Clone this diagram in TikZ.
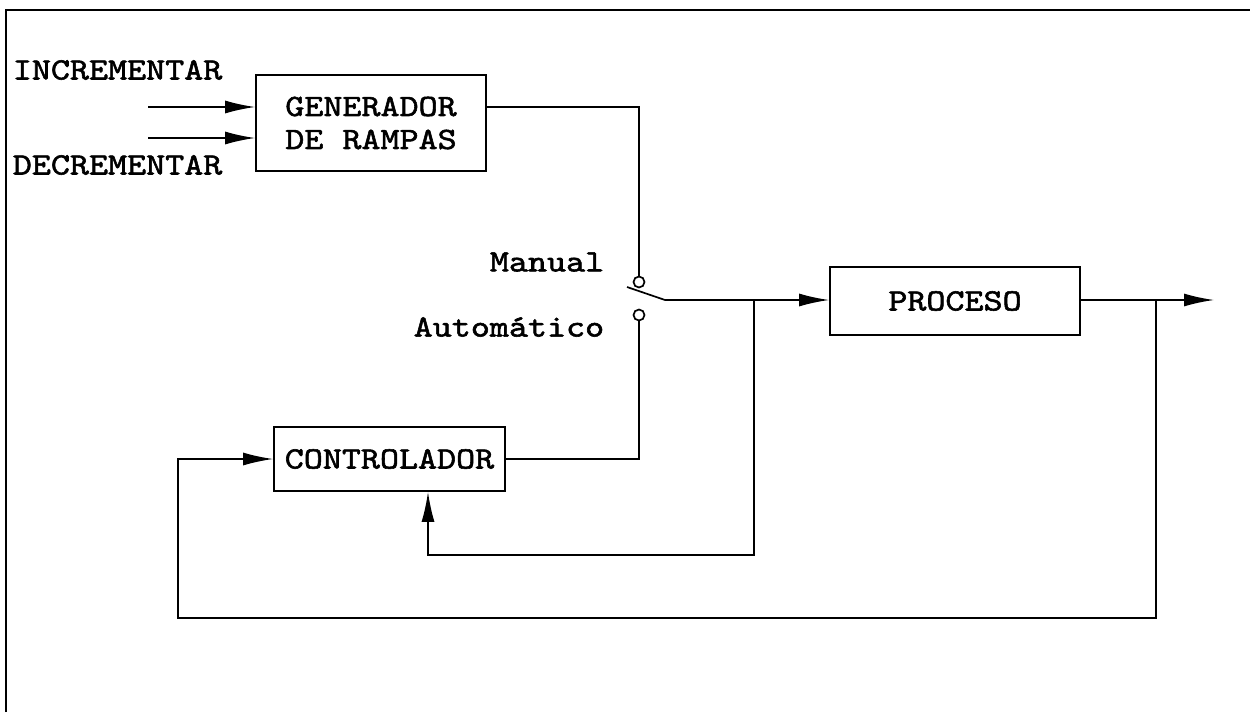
\documentclass[tikz,border=0pt]{standalone}
\usepackage{fontspec}
\newfontfamily\labfont{lmmono10-regular.otf}[FakeStretch=1.17, FakeBold=1.8]
\usetikzlibrary{arrows.meta}
\begin{document}
\begin{tikzpicture}[x=1pt,y=-1pt,
  line width=1.7pt,
  blk/.style={draw, inner sep=0pt, font=\labfont\fontsize{31}{33}\selectfont, align=center},
  lbl/.style={inner sep=0pt, font=\labfont\fontsize{31}{33}\selectfont},
  arr/.style={-{Latex[length=30pt,width=13pt]}},
  sw/.style={draw, circle, minimum size=11pt, inner sep=0pt, line width=1.7pt}]
\useasboundingbox (0,0) rectangle (1250,712);
% frame
\draw (6,712) -- (6,10) -- (1250,10);
% blocks
\node[blk, minimum width=230pt, minimum height=96pt] (gen) at (371,123) {GENERADOR\\DE RAMPAS};
\node[blk, minimum width=250pt, minimum height=68pt] (proc) at (955,301) {PROCESO};
\node[blk, minimum width=231pt, minimum height=64pt] (ctrl) at (389.5,459) {CONTROLADOR};
% labels
\node[lbl, anchor=west] (inc) at (12,70) {INCREMENTAR};
\node[lbl, anchor=west] (dec) at (12,165) {DECREMENTAR};
\node[lbl, anchor=east] (man) at (605,262) {Manual};
\node[lbl, anchor=east] (aut) at (605,327) {Automático};
% switch
\node[sw] (cm) at (639,282) {};
\node[sw] (ca) at (639,315) {};
\coordinate (bl0) at (627,287);
\coordinate (bl1) at (665,300);
\draw (bl0) -- (bl1);
% inputs
\coordinate (i1) at (148,107);
\coordinate (i2) at (148,138);
\draw[arr] (i1) -- (i1 -| gen.west);
\draw[arr] (i2) -- (i2 -| gen.west);
% generator to manual contact
\draw (gen.east |- i1) -| (cm.north);
% switch to process
\draw[arr] (bl1) -- (proc.west |- bl1);
% controller to automatic contact
\draw (ctrl.east) -| (ca.south);
% feedback from process input to controller bottom
\coordinate (j1) at (754,300);
\coordinate (f1) at (754,555);
\coordinate (f0) at (428,555);
\draw[arr] (j1) -- (f1) -- (f0) -- (f0 |- ctrl.south);
% process output
\coordinate (out) at (1214,300);
\draw[arr] (proc.east |- out) -- (out);
\coordinate (j2) at (1156,300);
\coordinate (f2) at (1156,618);
\coordinate (f3) at (178,618);
\draw[arr] (j2) -- (f2) -- (f3) |- (ctrl.west);
\end{tikzpicture}
\end{document}
